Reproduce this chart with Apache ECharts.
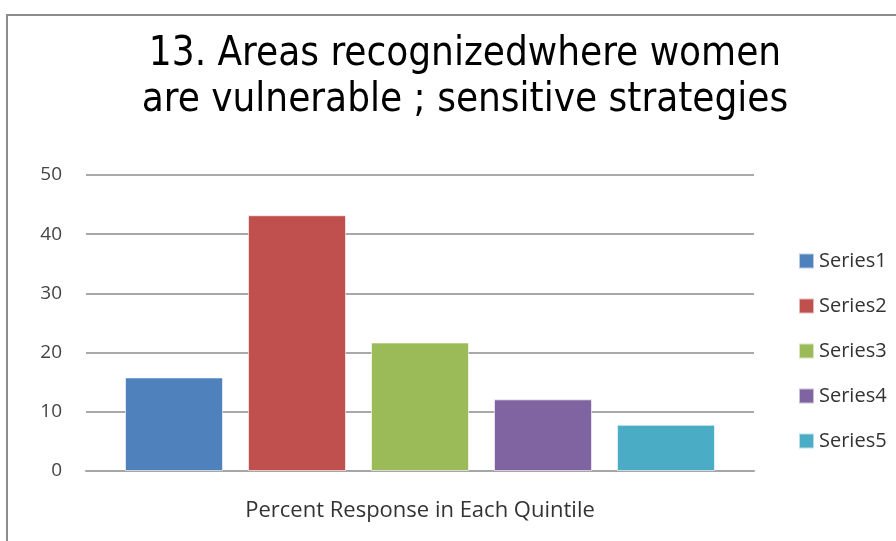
<!DOCTYPE html>
<html>
<head>
<meta charset="utf-8">
<script src="https://cdn.jsdelivr.net/npm/echarts@6/dist/echarts.min.js"></script>
<style>
  html, body { margin: 0; padding: 0; background: #fff; }
  #root { width: 896px; height: 541px; }
</style>
</head>
<body>
<div id="root"></div>
<script>
// values
const categories = [''];
const seriesNames = ['Series1', 'Series2', 'Series3', 'Series4', 'Series5'];
const seriesValues = [15.8, 43.2, 21.7, 12.1, 7.8];
const colors = ['#4F81BD', '#C0504D', '#9BBB59', '#8064A2', '#4BACC6'];

let myChart = echarts.init(document.getElementById('root'));

const font = '"Liberation Sans Narrow", "DejaVu Sans Condensed", "Open Sans", sans-serif';
const smallFont = '"Open Sans", sans-serif';

let option = {
  animation: false,
  backgroundColor: '#fff',
  title: {
    text: '13. Areas recognizedwhere women\nare vulnerable ; sensitive strategies',
    left: 460,
    textAlign: 'center',
    top: 27,
    textStyle: {
      fontFamily: font,
      fontSize: 40,
      fontWeight: 'normal',
      color: '#000',
      lineHeight: 46
    }
  },
  graphic: [{
    type: 'polyline',
    shape: { points: [[7, 541], [7, 15], [896, 15]] },
    style: { stroke: '#8c8c8c', lineWidth: 2, fill: null }
  }],
  legend: {
    orient: 'vertical',
    left: 793,
    top: 246,
    itemWidth: 15,
    itemHeight: 15,
    itemGap: 25,
    icon: 'rect',
    textStyle: { fontFamily: smallFont, fontSize: 20, color: '#333' },
    data: seriesNames
  },
  grid: {
    left: 86,
    right: 142,
    top: 175,
    bottom: 70
  },
  xAxis: {
    type: 'category',
    data: categories,
    name: 'Percent Response in Each Quintile',
    nameLocation: 'middle',
    nameGap: 29,
    nameTextStyle: { fontFamily: smallFont, fontSize: 22, color: '#333' },
    axisLine: { lineStyle: { color: '#a6a6a6', width: 2 } },
    axisTick: { show: false },
    axisLabel: { show: false }
  },
  yAxis: {
    type: 'value',
    min: 0,
    max: 50,
    interval: 10,
    axisLine: { show: false },
    axisTick: { show: false },
    axisLabel: { fontFamily: smallFont, fontSize: 19, color: '#444', margin: 24 },
    splitLine: { lineStyle: { color: '#8c8c8c', width: 1.5 } }
  },
  series: seriesNames.map((name, i) => ({
    name: name,
    type: 'bar',
    data: [seriesValues[i]],
    barWidth: 98,
    barGap: '25.5%',
    itemStyle: { color: colors[i], borderColor: 'rgba(255,255,255,0.6)', borderWidth: 1 }
  }))
};

myChart.setOption(option);
</script>
</body>
</html>
